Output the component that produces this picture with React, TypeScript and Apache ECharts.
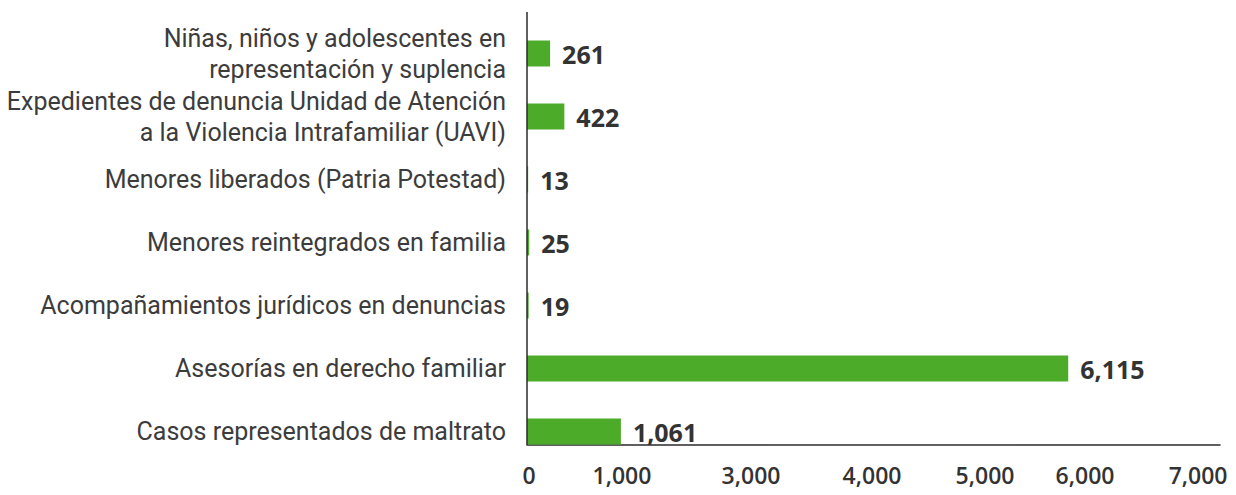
import React, { useEffect, useRef } from "react";
import * as echarts from "echarts";

const CATEGORIES = [
  "Casos representados de maltrato",
  "Asesorías en derecho familiar",
  "Acompañamientos jurídicos en denuncias",
  "Menores reintegrados en familia",
  "Menores liberados (Patria Potestad)",
  "Expedientes de denuncia Unidad de Atención\na la Violencia Intrafamiliar (UAVI)",
  "Niñas, niños y adolescentes en\nrepresentación y suplencia",
];
const VALUES = [1061, 6115, 19, 25, 13, 422, 261];
const TICK_LABELS = ["0", "1,000", "3,000", "4,000", "5,000", "6,000", "7,000"];
// where each printed tick label sits along the value axis (as in the source)
const TICK_AT = [23, 1073, 2531, 3898, 5175, 6305, 7582];
const AXIS_MAX = 7830;

export default function App() {
  const ref = useRef<HTMLDivElement>(null);
  useEffect(() => {
    if (!ref.current) return;
    const chart = echarts.init(ref.current, null, { renderer: "svg" });
    const gridTop = 22;
    const gridBottom = 32;
    const H = 495;
    chart.setOption({
      animation: false,
      backgroundColor: "#ffffff",
      grid: { left: 527, right: 16, top: gridTop, bottom: gridBottom, containLabel: false },
      xAxis: {
        type: "value",
        min: 0,
        max: AXIS_MAX,
        offset: -18,
        axisLine: { show: true, lineStyle: { color: "#2b2b2b", width: 1.5 } },
        axisTick: { show: false },
        splitLine: { show: false },
        axisLabel: {
          customValues: TICK_AT,
          margin: 18,
          fontFamily: "Open Sans",
          fontSize: 23,
          fontWeight: 600,
          color: "#333333",
          formatter: (v: number) => {
            const i = TICK_AT.indexOf(v);
            return i >= 0 ? TICK_LABELS[i] : "";
          },
        },
      },
      yAxis: {
        type: "category",
        data: CATEGORIES,
        axisLine: { show: false },
        axisTick: { show: false },
        axisLabel: {
          margin: 21,
          fontFamily: "Roboto",
          fontSize: 25,
          lineHeight: 31,
          color: "#3c3c3c",
          align: "right",
        },
      },
      graphic: [
        {
          type: "line",
          shape: { x1: 527, y1: 12, x2: 527, y2: H - gridBottom - 18 },
          style: { stroke: "#2b2b2b", lineWidth: 1.5 },
          z: 10,
        },
      ],
      series: [
        {
          type: "bar",
          data: VALUES,
          barWidth: 26,
          itemStyle: { color: "#4dab2a" },
          label: {
            show: true,
            position: "right",
            distance: 12,
            fontFamily: "Open Sans",
            fontSize: 25,
            fontWeight: "bold",
            color: "#333333",
            formatter: (p: any) => Number(p.value).toLocaleString("en-US"),
          },
        },
      ],
    });
    return () => chart.dispose();
  }, []);
  return <div ref={ref} style={{ width: 1236, height: 495, margin: -8 }} />;
}
